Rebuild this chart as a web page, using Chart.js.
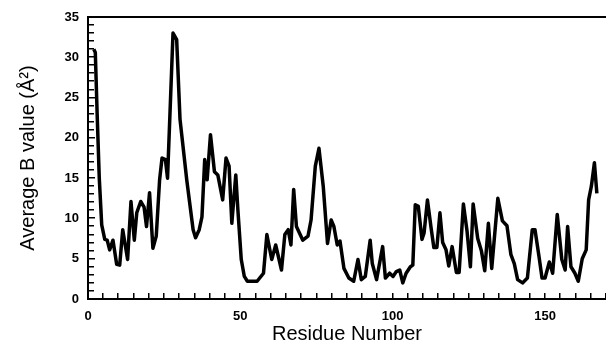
<!DOCTYPE html>
<html>
<head>
<meta charset="utf-8">
<script src="https://cdn.jsdelivr.net/npm/chart.js@4"></script>
<style>
  html, body { margin: 0; padding: 0; background: #fff; overflow: hidden; }
  #wrap { width: 616px; height: 352px; }
</style>
</head>
<body>
<div id="wrap"><canvas id="bChart" width="616" height="352"></canvas></div>
<script>
  const residues = [
    1.9, 2.4, 3.0, 3.7, 4.5, 5.5, 6.3, 7.1, 8.2, 9.4, 10.4, 11.4, 13.0, 14.1, 15.2, 16.0,
    17.3, 18.4, 19.2, 20.2, 21.3, 22.4, 23.5, 24.3, 25.4, 26.1, 27.9, 29.1, 30.2, 32.4,
    34.5, 35.3, 36.5, 37.4, 38.3, 39.1, 40.2, 41.5, 42.6, 44.2, 45.3, 46.3, 47.2, 48.5,
    49.2, 50.3, 51.3, 52.3, 55.5, 57.6, 58.7, 60.3, 61.6, 63.5, 64.6, 65.7, 66.6, 67.5,
    68.4, 70.5, 72.2, 73.2, 74.6, 75.8, 77.2, 78.6, 79.8, 80.7, 81.8, 82.7, 84.0, 85.6,
    87.2, 88.6, 89.7, 91.0, 92.6, 93.3, 94.7, 96.7, 97.6, 99.0, 100.1, 101.2, 102.3,
    103.3, 104.4, 105.8, 106.6, 107.4, 108.4, 109.6, 110.3, 111.4, 112.6, 113.5, 114.5,
    115.5, 116.4, 117.5, 118.4, 119.5, 120.9, 121.8, 123.2, 124.4, 125.5, 126.4, 127.9,
    129.1, 130.2, 131.4, 132.5, 134.5, 136.0, 137.5, 138.8, 139.9, 141.0, 142.6, 144.2,
    145.8, 146.7, 148.0, 149.0, 150.0, 151.4, 152.5, 154.0, 155.5, 156.6, 157.4, 158.5,
    159.8, 160.9, 162.2, 163.5, 164.3, 165.2, 166.2, 167.0
  ];
  const bValues = [
    31.0, 30.6, 23.0, 15.0, 9.2, 7.4, 7.3, 6.1, 7.3, 4.3, 4.2, 8.6, 4.9, 12.1, 7.3, 10.7,
    12.1, 11.4, 9.0, 13.2, 6.3, 7.8, 14.8, 17.5, 17.3, 15.0, 33.0, 32.2, 22.3, 14.8,
    8.6, 7.6, 8.6, 10.2, 17.3, 14.8, 20.4, 15.8, 15.4, 12.3, 17.5, 16.5, 9.4, 15.4,
    11.0, 4.9, 2.8, 2.2, 2.2, 3.2, 8.0, 4.9, 6.7, 3.6, 8.0, 8.6, 6.7, 13.6,
    9.0, 7.3, 7.8, 9.8, 16.5, 18.7, 14.0, 6.9, 9.8, 9.0, 6.7, 7.2, 3.8, 2.6,
    2.2, 4.9, 2.4, 2.8, 7.3, 4.4, 2.4, 6.5, 2.6, 3.2, 2.8, 3.4, 3.6,
    2.0, 3.2, 4.0, 4.2, 11.7, 11.5, 7.4, 8.2, 12.3, 8.8, 6.4, 6.4,
    10.7, 7.0, 6.1, 4.1, 6.5, 3.3, 3.3, 11.8, 8.4, 4.0, 11.8, 7.5,
    6.0, 3.5, 9.4, 3.8, 12.5, 9.7, 9.1, 5.5, 4.4, 2.4, 2.0, 2.6,
    8.6, 8.6, 5.3, 2.6, 2.6, 4.6, 3.2, 10.5, 4.9, 3.6, 9.0, 4.0,
    3.2, 2.2, 5.0, 6.1, 12.3, 14.0, 16.9, 13.1
  ];
  const xMax = 170;
  const yMax = 35;
  const xLabelEvery = 50;
  const yLabelEvery = 5;
  const xMinorStep = 5;
  const yMinorStep = 1;

  const tickFont = { family: "'Liberation Sans', Arial, sans-serif", size: 13, weight: 'bold' };
  const titleFont = { family: "'Liberation Sans', Arial, sans-serif", size: 20 };

  // top frame line plus the small inward tick marks on both axes
  const frameTicks = {
    id: 'frameTicks',
    afterDraw(chart) {
      const { ctx, chartArea } = chart;
      const ys = chart.scales.y;
      const bottom = Math.round(chartArea.bottom);
      const left = Math.round(chartArea.left);
      ctx.save();
      ctx.fillStyle = '#000';
      ctx.fillRect(left - 1, Math.round(chartArea.top) - 1, Math.round(chartArea.right) - left + 1, 2);
      for (let i = 0; i * yMinorStep <= yMax; i++) {
        const v = i * yMinorStep;
        const py = Math.round(ys.getPixelForValue(v));
        ctx.fillRect(left, py - 1, v % yLabelEvery === 0 ? 7 : 6, 1.5);
      }
      const w = chartArea.right - chartArea.left;
      for (let i = 0; i * xMinorStep <= xMax; i++) {
        const px = Math.round(chartArea.left + (i * xMinorStep / xMax) * w);
        ctx.fillRect(px - 1, bottom - 6, 1.5, 6);
      }
      ctx.restore();
    }
  };

  new Chart(document.getElementById('bChart').getContext('2d'), {
    type: 'line',
    data: {
      datasets: [{
        data: residues.map((r, i) => ({ x: r, y: bValues[i] })),
        borderColor: '#000',
        borderWidth: 3.5,
        borderJoinStyle: 'round',
        pointRadius: 0,
        tension: 0,
        fill: false
      }]
    },
    options: {
      responsive: false,
      animation: false,
      layout: { padding: { top: 17, right: 0, bottom: 0, left: 0 } },
      plugins: { legend: { display: false }, tooltip: { enabled: false } },
      scales: {
        x: {
          type: 'linear',
          min: 0,
          max: xMax,
          afterFit(scale) { scale.height = 53; },
          border: { display: true, color: '#000', width: 2 },
          grid: { display: false, drawTicks: false },
          ticks: {
            stepSize: xMinorStep,
            autoSkip: false,
            maxRotation: 0,
            padding: 10,
            color: '#000',
            font: tickFont,
            callback: v => (v % xLabelEvery === 0 ? v : '')
          },
          title: {
            display: true,
            text: 'Residue Number',
            color: '#000',
            font: titleFont,
            padding: { top: 0, bottom: 6 }
          }
        },
        y: {
          min: 0,
          max: yMax,
          afterFit(scale) { scale.width = 88; },
          border: { display: true, color: '#000', width: 2 },
          grid: { display: false, drawTicks: false },
          ticks: {
            stepSize: yLabelEvery,
            autoSkip: false,
            padding: 9,
            color: '#000',
            font: tickFont
          },
          title: {
            display: true,
            text: 'Average B value (Å²)',
            color: '#000',
            font: titleFont,
            padding: { top: 16, bottom: 0 }
          }
        }
      }
    },
    plugins: [frameTicks]
  });
</script>
</body>
</html>
